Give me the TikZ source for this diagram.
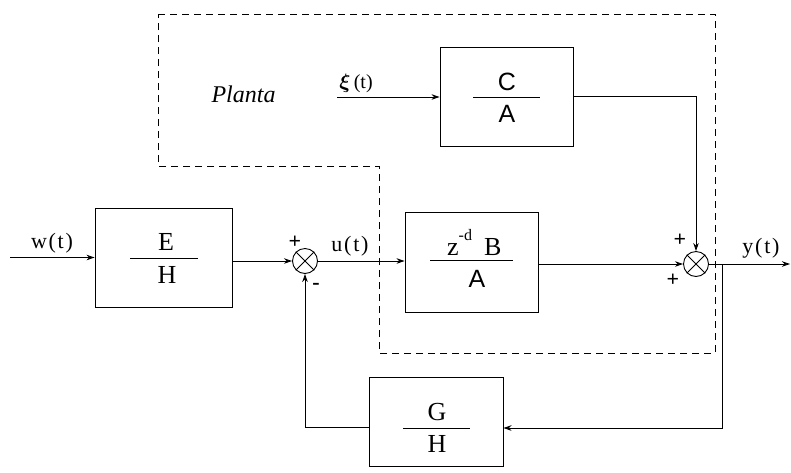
\documentclass[tikz,border=0pt]{standalone}
\usepackage{fontspec}
\setmainfont{Liberation Serif}
\setsansfont{Liberation Sans}
\usetikzlibrary{arrows.meta,calc}
\begin{document}
\begin{tikzpicture}[x=1pt,y=-1pt,
  blk/.style={draw, line width=0.9pt, inner sep=0pt},
  sumnode/.style={draw, circle, minimum size=25pt, inner sep=0pt, line width=0.9pt},
  wire/.style={line width=0.9pt},
  arr/.style={wire, -{Stealth[length=8pt,width=5.5pt]}},
  lbl/.style={font=\fontsize{22}{24}\selectfont\addfontfeature{LetterSpace=8}, inner sep=0pt, anchor=base},
  sgn/.style={font=\fontsize{22}{24}\selectfont\bfseries, inner sep=0pt},
  fr/.style={font=\fontsize{26}{28}\selectfont, inner sep=0pt, anchor=base},
  frs/.style={font=\fontsize{25}{27}\selectfont\sffamily, inner sep=0pt, anchor=base},
  plant/.style={line width=0.9pt, dash pattern=on 7pt off 5pt}]
\useasboundingbox (0,0) rectangle (791,472);

% dashed plant region
\draw[plant] (158,14) -- (715,14) -- (715,353) -- (379,353) -- (379,166) -- (158,166) -- cycle;
\node[font=\fontsize{24}{26}\selectfont\itshape, inner sep=0pt, anchor=base] (planta) at (243.5,102) {Planta};

% blocks
\node[blk, minimum width=137pt, minimum height=99pt] (EH) at (163.5,257.5) {};
\node[blk, minimum width=133pt, minimum height=100pt] (ZB) at (471.5,262) {};
\node[blk, minimum width=133pt, minimum height=99pt] (CA) at (506.5,96.5) {};
\node[blk, minimum width=134pt, minimum height=89pt] (GH) at (436,421.5) {};

% fractions
\draw[wire] (130,258) -- (198,258);
\node[fr] (EHn) at (166,250) {E};
\node[fr] (EHd) at (167,283) {H};
\draw[wire] (430,260) -- (513,260);
\node[fr, anchor=base west] (ZBn) at (447,255) {z\raisebox{0.55em}{\fontsize{16}{16}\selectfont -d}\hspace{12pt}B};
\node[frs] (ZBd) at (477,287) {A};
\draw[wire] (473,97) -- (540,97);
\node[frs] (CAn) at (507,90) {C};
\node[frs] (CAd) at (507,122) {A};
\draw[wire] (403,428) -- (470,428);
\node[fr] (GHn) at (437,420) {G};
\node[fr] (GHd) at (437,452) {H};

% summing junctions
\node[sumnode] (s1) at (305,261) {};
\draw[wire] (s1.north west) -- (s1.south east) (s1.north east) -- (s1.south west);
\node[sumnode] (s2) at (696,264) {};
\draw[wire] (s2.north west) -- (s2.south east) (s2.north east) -- (s2.south west);

% free ends
\coordinate (win) at (10,257.5);
\coordinate (xin) at (337,97);
\coordinate (yout) at (790,264);
\coordinate (br) at (722,264);

% connectors
\draw[arr] (win) -- (EH.west);
\draw[arr] (s1.west -| EH.east) -- (s1.west);
\draw[arr] (s1.east) -- (s1.east -| ZB.west);
\draw[arr] (s2.west -| ZB.east) -- (s2.west);
\draw[arr] (xin) -- (xin -| CA.west);
\draw[arr] (CA.east) -| (s2.north);
\draw[arr] (s2.east) -- (yout);
\draw[arr] (br) |- ($(GH.east)+(0,6.5)$);
\draw[arr] ($(GH.west)+(0,5.5)$) -| (s1.south);

% labels
\node[lbl] (wl) at (52,248) {w(t)};
\node[lbl] (ul) at (350,251) {u(t)};
\node[lbl] (yl) at (761,253) {y(t)};
\node[lbl, font=\fontsize{20}{22}\selectfont] (xl) at (356,88) {{\boldmath$\xi$}\,(t)};
\node[sgn] (p1) at (295,242) {+};
\node[sgn] (m1) at (316,286) {-};
\node[sgn] (p2) at (680,240) {+};
\node[sgn] (p3) at (673,280) {+};
\end{tikzpicture}
\end{document}
